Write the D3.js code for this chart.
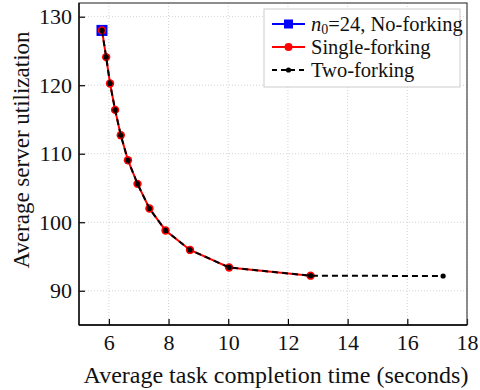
<!DOCTYPE html>
<html><head><meta charset="utf-8">
<script src="https://cdn.jsdelivr.net/npm/d3@7"></script>
<style>body{margin:0;background:#fff}svg{display:block}</style>
</head><body><svg id="c" width="480" height="390"></svg>
<script>
const completionTime = [5.77, 5.91, 6.04, 6.21, 6.40, 6.64, 6.96, 7.36, 7.90, 8.72, 10.03, 12.76, 17.2];
const utilization    = [128.0, 124.1, 120.25, 116.4, 112.7, 109.05, 105.6, 102.0, 98.8, 95.96, 93.4, 92.2, 92.15];
const noForkCount = 1;      // points in No-forking series
const singleForkCount = 12; // points in Single-forking series
const xTicks = [6, 8, 10, 12, 14, 16, 18];
const yTicks = [90, 100, 110, 120, 130];
const legendLabels = ["=24, No-forking", "Single-forking", "Two-forking"];

const pts = completionTime.map((t, i) => ({x: t, y: utilization[i]}));
const noFork = pts.slice(0, noForkCount);
const single = pts.slice(0, singleForkCount);
const two = pts;

const FONT = '"Liberation Serif"';
const svg = d3.select("#c");
const m = {l: 79, r: 467, t: 3, b: 325};
const x = d3.scaleLinear().domain([5, 18]).range([m.l, m.r]);
const y = d3.scaleLinear().domain([85, 132]).range([m.b, m.t]);

// grid
const g = svg.append("g");
g.selectAll(".gx").data(xTicks).join("line")
  .attr("x1", d => x(d)).attr("x2", d => x(d)).attr("y1", m.t).attr("y2", m.b)
  .attr("stroke", "#c8c8c8").attr("stroke-width", 0.8).attr("stroke-dasharray", "1,2");
g.selectAll(".gy").data(yTicks).join("line")
  .attr("y1", d => y(d)).attr("y2", d => y(d)).attr("x1", m.l).attr("x2", m.r)
  .attr("stroke", "#c8c8c8").attr("stroke-width", 0.8).attr("stroke-dasharray", "1,2");

// axes
const xAxis = d3.axisBottom(x).tickValues(xTicks).tickSizeInner(-6).tickSizeOuter(0).tickPadding(9);
const yAxis = d3.axisLeft(y).tickValues(yTicks).tickSizeInner(-6).tickSizeOuter(0).tickPadding(7);
const xa = svg.append("g").attr("transform", `translate(0,${m.b})`).call(xAxis);
const ya = svg.append("g").attr("transform", `translate(${m.l},0)`).call(yAxis);
[xa, ya].forEach(a => {
  a.select(".domain").remove();
  a.selectAll("line").attr("stroke", "#000").attr("stroke-width", 1.2);
  a.selectAll("text").style("font-family", FONT).style("font-size", "22px").attr("fill", "#111");
});
// frame
svg.append("rect").attr("x", m.l).attr("y", m.t).attr("width", m.r - m.l).attr("height", m.b - m.t)
  .attr("fill", "none").attr("stroke", "#444").attr("stroke-width", 1.2);
svg.append("line").attr("x1", m.l).attr("x2", m.l).attr("y1", m.t).attr("y2", m.b).attr("stroke", "#000").attr("stroke-width", 1.3);
svg.append("line").attr("x1", m.l).attr("x2", m.r).attr("y1", m.b).attr("y2", m.b).attr("stroke", "#000").attr("stroke-width", 1.3);

// labels
svg.append("text").attr("x", 276).attr("y", 383).attr("text-anchor", "middle")
  .style("font-family", FONT).style("font-size", "24px").attr("fill", "#111")
  .text("Average task completion time (seconds)");
svg.append("text").attr("transform", `translate(29,150) rotate(-90)`).attr("text-anchor", "middle")
  .style("font-family", FONT).style("font-size", "23px").attr("fill", "#111")
  .text("Average server utilization");

const line = d3.line().x(d => x(d.x)).y(d => y(d.y));

// No-forking
svg.append("g").selectAll("rect").data(noFork).join("rect")
  .attr("x", d => x(d.x) - 5).attr("y", d => y(d.y) - 5).attr("width", 10).attr("height", 10)
  .attr("fill", "#0000ff").attr("stroke", "#0000ff");
// Single-forking
svg.append("path").datum(single).attr("d", line).attr("fill", "none").attr("stroke", "#ff0000").attr("stroke-width", 2);
svg.append("g").selectAll("circle").data(single).join("circle")
  .attr("cx", d => x(d.x)).attr("cy", d => y(d.y)).attr("r", 4.2).attr("fill", "#ff0000");
// Two-forking
svg.append("path").datum(two).attr("d", line).attr("fill", "none").attr("stroke", "#000").attr("stroke-width", 2)
  .attr("stroke-dasharray", "6,4");
svg.append("g").selectAll("circle").data(two).join("circle")
  .attr("cx", d => x(d.x)).attr("cy", d => y(d.y)).attr("r", 2.6).attr("fill", "#000");

// legend
const lg = svg.append("g");
lg.append("rect").attr("x", 264).attr("y", 9).attr("width", 196).attr("height", 78)
  .attr("fill", "#fff").attr("stroke", "#ccc").attr("stroke-width", 1);
const rows = [24, 47, 70];
const lx0 = 272, lx1 = 305, tx = 311;
const fs = "20.5px";
// row 1
lg.append("line").attr("x1", lx0).attr("x2", lx1).attr("y1", rows[0]).attr("y2", rows[0]).attr("stroke", "#0000ff").attr("stroke-width", 2);
lg.append("rect").attr("x", (lx0 + lx1) / 2 - 4.5).attr("y", rows[0] - 4.5).attr("width", 9).attr("height", 9).attr("fill", "#0000ff");
const t1 = lg.append("text").attr("x", tx).attr("y", rows[0] + 7).style("font-family", FONT).style("font-size", fs).attr("fill", "#111");
t1.append("tspan").style("font-style", "italic").text("n");
t1.append("tspan").style("font-size", "14px").attr("dy", 3).text("0");
t1.append("tspan").attr("dy", -3).text(legendLabels[0]);
// row 2
lg.append("line").attr("x1", lx0).attr("x2", lx1).attr("y1", rows[1]).attr("y2", rows[1]).attr("stroke", "#ff0000").attr("stroke-width", 2);
lg.append("circle").attr("cx", (lx0 + lx1) / 2).attr("cy", rows[1]).attr("r", 4).attr("fill", "#ff0000");
lg.append("text").attr("x", tx).attr("y", rows[1] + 7).style("font-family", FONT).style("font-size", fs).attr("fill", "#111").text(legendLabels[1]);
// row 3
lg.append("line").attr("x1", lx0).attr("x2", lx1).attr("y1", rows[2]).attr("y2", rows[2]).attr("stroke", "#000").attr("stroke-width", 2).attr("stroke-dasharray", "5,4");
lg.append("circle").attr("cx", (lx0 + lx1) / 2).attr("cy", rows[2]).attr("r", 2.6).attr("fill", "#000");
lg.append("text").attr("x", tx).attr("y", rows[2] + 7).style("font-family", FONT).style("font-size", fs).attr("fill", "#111").text(legendLabels[2]);
</script></body></html>
